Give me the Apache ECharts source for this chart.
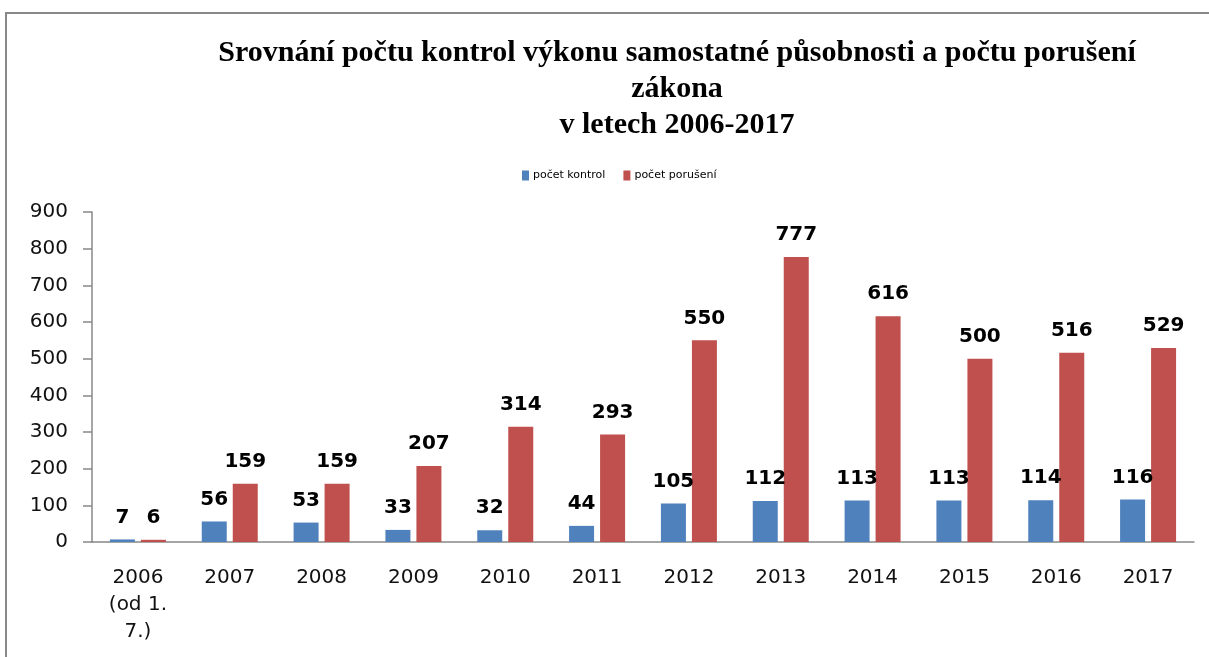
<!DOCTYPE html>
<html>
<head>
<meta charset="utf-8">
<script src="https://cdn.jsdelivr.net/npm/echarts@6/dist/echarts.min.js"></script>
<style>
  html, body { margin: 0; padding: 0; background: #fff; }
  #chart { width: 1209px; height: 657px; }
</style>
</head>
<body>
<div id="chart"></div>
<script>
// data
var years = ['2006\n(od 1.\n7.)', '2007', '2008', '2009', '2010', '2011', '2012', '2013', '2014', '2015', '2016', '2017'];
var pocetKontrol = [7, 56, 53, 33, 32, 44, 105, 112, 113, 113, 114, 116];
var pocetPoruseni = [6, 159, 159, 207, 314, 293, 550, 777, 616, 500, 516, 529];
var yTicks = [0, 100, 200, 300, 400, 500, 600, 700, 800, 900];

var myChart = echarts.init(document.getElementById('chart'));

var labelStyle = {
  show: true,
  position: 'top',
  distance: 12,
  fontFamily: 'DejaVu Sans',
  fontWeight: 'bold',
  fontSize: 20,
  color: '#000'
};

var option = {
  backgroundColor: '#fff',
  animation: false,
  title: {
    text: 'Srovnání počtu kontrol výkonu samostatné působnosti a počtu porušení\nzákona\nv letech 2006-2017',
    left: 672,
    textAlign: 'center',
    top: 30,
    textStyle: {
      fontFamily: 'Liberation Serif',
      fontWeight: 'bold',
      fontSize: 30,
      lineHeight: 36,
      color: '#000'
    }
  },
  graphic: [{
    type: 'rect',
    shape: { x: 6, y: 13, width: 1210, height: 660 },
    style: { fill: 'none', stroke: '#888', lineWidth: 2 }
  }],
  legend: {
    top: 165,
    left: 517,
    icon: 'rect',
    itemWidth: 7,
    itemHeight: 10,
    itemGap: 18,
    textStyle: { fontFamily: 'DejaVu Sans', fontSize: 11, color: '#000', padding: [0, 0, 0, -1] },
    data: ['počet kontrol', 'počet porušení']
  },
  grid: { left: 92, right: 15, top: 212, bottom: 115 },
  xAxis: {
    type: 'category',
    data: years,
    axisLine: { lineStyle: { color: '#888', width: 1.5 } },
    axisTick: { show: false },
    axisLabel: {
      margin: 22,
      fontFamily: 'DejaVu Sans',
      fontSize: 20,
      lineHeight: 27,
      color: '#111'
    }
  },
  yAxis: {
    type: 'value',
    min: yTicks[0],
    max: yTicks[yTicks.length - 1],
    interval: 100,
    splitLine: { show: false },
    axisLine: { show: true, lineStyle: { color: '#888', width: 1.5 } },
    axisTick: { show: true, length: 9, lineStyle: { color: '#888', width: 1.5 } },
    axisLabel: {
      margin: 24,
      fontFamily: 'DejaVu Sans',
      fontSize: 20,
      color: '#111'
    }
  },
  series: [
    {
      name: 'počet kontrol',
      type: 'bar',
      data: pocetKontrol,
      barWidth: 25,
      barGap: '24%',
      itemStyle: { color: '#4F81BD' },
      label: labelStyle
    },
    {
      name: 'počet porušení',
      type: 'bar',
      data: pocetPoruseni,
      barWidth: 25,
      itemStyle: { color: '#C0504D' },
      label: labelStyle
    }
  ]
};

myChart.setOption(option);
</script>
</body>
</html>
